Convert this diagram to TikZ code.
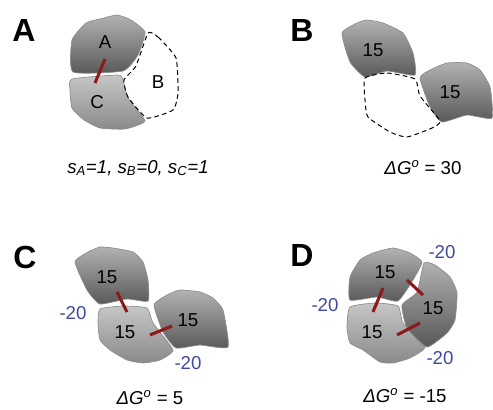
\documentclass[tikz,border=0pt]{standalone}
\usepackage{fontspec}
\setmainfont{Liberation Sans}
\usetikzlibrary{positioning}
\definecolor{DarkTop}{HTML}{B2B2B2}
\definecolor{DarkBot}{HTML}{585858}
\definecolor{LightTop}{HTML}{C6C6C6}
\definecolor{LightBot}{HTML}{8A8A8A}
\definecolor{BondRed}{HTML}{8B1A1A}
\definecolor{EnBlue}{HTML}{3F4A9E}

\begin{document}
\begin{tikzpicture}[x=0.75pt, y=-0.75pt,
    dark/.style={draw=gray!90, line width=0.5pt, top color=DarkTop, bottom color=DarkBot},
    light/.style={draw=gray!90, line width=0.5pt, top color=LightTop, bottom color=LightBot},
    empty/.style={draw=black, line width=0.75pt, dash pattern=on 3.5pt off 2.5pt},
    bond/.style={BondRed, line width=2.3pt},
    panel/.style={font=\fontsize{24}{24}\selectfont\bfseries},
    lbl/.style={font=\fontsize{14}{16}\selectfont},
    energy/.style={lbl, text=EnBlue},
    eq/.style={font=\fontsize{14}{16}\selectfont}]
  \useasboundingbox (0,0) rectangle (493,410);

  % panel A
  \node[panel] (pA) at (24,30) {A};
  \draw[dark] plot[smooth cycle, tension=0.3] coordinates
    {(73,72) (72,40) (86,23) (100,19) (117,15) (131,20) (145,32) (138,55) (123,71)};
  \draw[light] plot[smooth cycle, tension=0.3] coordinates
    {(72,79) (118,75) (123,80) (128,98) (145,121) (125,129) (100,128) (84,120) (72,108) (70,90)};
  \draw[empty] plot[smooth cycle, tension=0.3] coordinates
    {(148,33) (158,37) (176,58) (178,93) (173,110) (147,118) (128,97) (124,80) (136,66)};
  \draw[bond] (105,59) -- (95,83);
  \node[lbl] (a1) at (105,42) {A};
  \node[lbl] (a2) at (158,82) {B};
  \node[lbl] (a3) at (97,102) {C};
  \node[eq] (eqA) at (138,168) {\itshape s\textsubscript{A}=1, s\textsubscript{B}=0, s\textsubscript{C}=1};

  % panel B
  \node[panel] (pB) at (302,30) {B};
  \draw[dark] plot[smooth cycle, tension=0.3] coordinates
    {(342,33) (357,23) (367,20) (383,23) (403,33) (413,53) (415,75) (387,71) (365,77) (350,62)};
  \draw[dark] plot[smooth cycle, tension=0.3] coordinates
    {(420,78) (430,70) (447,63) (467,63) (480,70) (490,87) (492,118) (467,115) (442,122) (430,107)};
  \draw[empty] plot[smooth cycle, tension=0.3] coordinates
    {(365,78) (387,73) (415,79) (420,96) (440,121) (432,128) (407,137) (390,132) (368,117) (365,100)};
  \node[lbl] (b1) at (373,50) {15};
  \node[lbl] (b2) at (450,92) {15};
  \node[eq] (eqB) at (423,168) {{\itshape ΔG\textsuperscript{o}} = 30};

  % panel C
  \node[panel] (pC) at (25,257) {C};
  \draw[dark] plot[smooth cycle, tension=0.3] coordinates
    {(75,262) (88,252) (100,247) (113,248) (133,252) (143,262) (148,280) (148,301) (127,299) (100,304) (87,290)};
  \draw[light] plot[smooth cycle, tension=0.3] coordinates
    {(100,309) (123,306) (147,308) (153,323) (173,350) (160,360) (143,363) (127,360) (110,350) (100,340) (98,323)};
  \draw[dark] plot[smooth cycle, tension=0.3] coordinates
    {(154,305) (167,295) (180,290) (200,292) (213,298) (223,310) (228,347) (200,345) (176,348) (163,332)};
  \draw[bond] (117,292) -- (127,312);
  \draw[bond] (150,335) -- (172,326);
  \node[lbl] (c1) at (107,277) {15};
  \node[lbl] (c2) at (125,332) {15};
  \node[lbl] (c3) at (188,320) {15};
  \node[energy] (c4) at (73,313) {-20};
  \node[energy] (c5) at (188,363) {-20};
  \node[eq] (eqC) at (150,398) {{\itshape ΔG\textsuperscript{o}} = 5};

  % panel D
  \node[panel] (pD) at (302,255) {D};
  \draw[dark] plot[smooth cycle, tension=0.3] coordinates
    {(350,300) (350,277) (360,260) (373,253) (393,248) (410,253) (422,262) (413,280) (398,301) (377,297)};
  \draw[light] plot[smooth cycle, tension=0.3] coordinates
    {(350,307) (375,303) (398,306) (403,323) (425,347) (410,358) (393,363) (380,362) (363,350) (350,343) (347,327)};
  \draw[dark] plot[smooth cycle, tension=0.3] coordinates
    {(424,263) (435,265) (450,277) (457,293) (455,320) (447,333) (427,347) (407,328) (402,305) (417,292)};
  \draw[bond] (383,288) -- (373,312);
  \draw[bond] (407,280) -- (423,295);
  \draw[bond] (397,335) -- (420,323);
  \node[lbl] (d1) at (385,272) {15};
  \node[lbl] (d2) at (372,332) {15};
  \node[lbl] (d3) at (433,308) {15};
  \node[energy] (d4) at (442,252) {-20};
  \node[energy] (d5) at (325,305) {-20};
  \node[energy] (d6) at (440,358) {-20};
  \node[eq] (eqD) at (405,396) {{\itshape ΔG\textsuperscript{o}} = -15};
\end{tikzpicture}
\end{document}
